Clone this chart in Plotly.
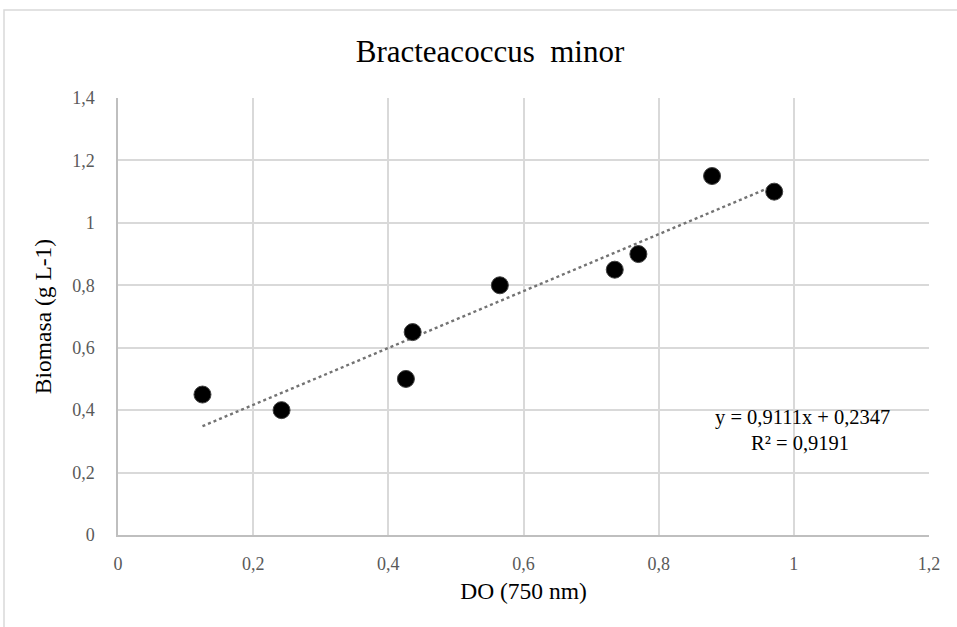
import plotly.graph_objects as go

# Data
do_750 = [0.125, 0.242, 0.426, 0.436, 0.565, 0.735, 0.770, 0.879, 0.971]
biomasa = [0.45, 0.40, 0.50, 0.65, 0.80, 0.85, 0.90, 1.15, 1.10]
slope = 0.9111
intercept = 0.2347
r2 = 0.9191

x_ticks = [0, 0.2, 0.4, 0.6, 0.8, 1.0, 1.2]
y_ticks = [0, 0.2, 0.4, 0.6, 0.8, 1.0, 1.2, 1.4]

W, H = 957, 627
L, R, T, B = 118, 28, 98, 92
pw, ph = W - L - R, H - T - B

def fmt(v):
    return f"{v:.4f}".replace(".", ",")

trend_x = [min(do_750), max(do_750)]
trend_y = [slope * v + intercept for v in trend_x]

fig = go.Figure()
fig.add_trace(go.Scatter(
    x=trend_x, y=trend_y, mode="lines",
    line=dict(color="#737373", width=2.4, dash="dot"),
    hoverinfo="skip", showlegend=False))
fig.add_trace(go.Scatter(
    x=do_750, y=biomasa, mode="markers",
    marker=dict(size=17, color="black", line=dict(color="#404040", width=1)),
    showlegend=False))

serif = "Liberation Serif, Times New Roman, serif"

# trendline equation label (two lines)
fig.add_annotation(
    x=(802 - L) / pw, y=(H - B - 417) / ph, xref="paper", yref="paper",
    text=f"y = {fmt(slope)}x + {fmt(intercept)}",
    showarrow=False, xanchor="center", yanchor="middle",
    font=dict(family=serif, size=20.5, color="black"))
fig.add_annotation(
    x=(800 - L) / pw, y=(H - B - 443) / ph, xref="paper", yref="paper",
    text=f"R² = {fmt(r2)}",
    showarrow=False, xanchor="center", yanchor="middle",
    font=dict(family=serif, size=20.5, color="black"))

# outer chart frame
fig.add_shape(type="rect", xref="paper", yref="paper",
              x0=(4 - L) / pw, x1=(W + 5 - L) / pw,
              y0=(H - B - (H + 5)) / ph, y1=(H - B - 10) / ph,
              line=dict(color="#d9d9d9", width=1.5), fillcolor="rgba(0,0,0,0)",
              layer="below")

fig.update_layout(
    width=W, height=H,
    margin=dict(l=L, r=R, t=T, b=B),
    paper_bgcolor="white", plot_bgcolor="white",
    separators=", ",
    title=dict(text="Bracteacoccus&nbsp; minor", x=490 / W, xanchor="center",
               y=1 - 51 / H, yanchor="middle",
               font=dict(family=serif, size=31, color="black")),
    font=dict(family=serif, color="#404040"),
    xaxis=dict(range=[0, 1.2], tickvals=x_ticks,
               tickformat="~g",
               showgrid=True, gridcolor="#d9d9d9", gridwidth=1.5,
               showline=True, linecolor="#bfbfbf", linewidth=1.5,
               zeroline=False,
               ticks="outside", ticklen=12, tickcolor="rgba(0,0,0,0)",
               tickfont=dict(family=serif, size=18, color="#595959"),
               title=dict(text="DO (750 nm)", standoff=9,
                          font=dict(family=serif, size=23.5, color="black"))),
    yaxis=dict(range=[0, 1.4], tickvals=y_ticks,
               tickformat="~g",
               showgrid=True, gridcolor="#d9d9d9", gridwidth=1.5,
               showline=True, linecolor="#bfbfbf", linewidth=1.5,
               zeroline=False,
               ticks="outside", ticklen=18, tickcolor="rgba(0,0,0,0)",
               tickfont=dict(family=serif, size=18, color="#595959"),
               title=dict(text="Biomasa (g L-1)", standoff=14,
                          font=dict(family=serif, size=23.5, color="black"))),
)

fig.write_html("out.html")
